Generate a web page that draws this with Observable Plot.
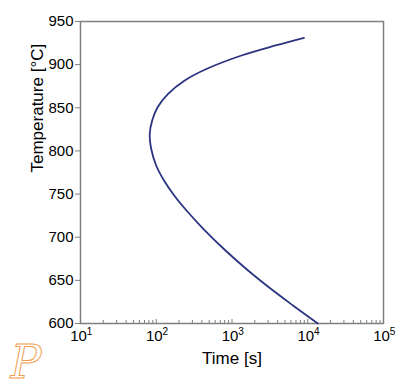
<!DOCTYPE html>
<html>
<head>
<meta charset="utf-8">
<script src="https://cdn.jsdelivr.net/npm/d3@7"></script>
<script src="https://cdn.jsdelivr.net/npm/@observablehq/plot@0.6"></script>
<style>
  html, body { margin: 0; padding: 0; background: #fff; }
  #wrap { position: relative; width: 401px; height: 391px; }
  #logo { position: absolute; left: 2px; top: 332px; }
</style>
</head>
<body>
<div id="wrap"></div>
<script>
// Time [s] along the C-curve (top to bottom)
const times = [8925, 3752, 1335, 466.3, 237.5, 143.4, 104.2, 88.4, 82, 86.0, 99.8, 126.6, 172.6, 250.8, 417.9, 820.8, 1631, 3252, 6387, 13575];
// Temperature [°C]
const temps = [931.1, 922.2, 910.6, 895.2, 881.6, 866.2, 850.7, 835.3, 820, 802, 783.1, 765.7, 748.4, 731, 709.8, 684.6, 661.4, 640.2, 620.9, 600];

const xTicks = [10, 100, 1000, 10000, 100000];
const xTickBase = ["10", "10", "10", "10", "10"];
const xTickExp = ["1", "2", "3", "4", "5"];
const yTicks = [600, 650, 700, 750, 800, 850, 900, 950];

const data = times.map((t, i) => ({time: t, temp: temps[i]}));
const minorTicks = [];
for (let d = 10; d < 100000; d *= 10) for (let k = 2; k <= 9; k++) minorTicks.push(d * k);

const axisColor = "#7f7f7f";
const font = "Liberation Sans, Arial, sans-serif";
const chart = Plot.plot({
  width: 401,
  height: 391,
  marginLeft: 80,
  marginRight: 18,
  marginTop: 21,
  marginBottom: 68,
  style: {fontFamily: font, fontSize: "15px", color: "#000", background: "#fff"},
  x: {type: "log", domain: [10, 100000]},
  y: {domain: [600, 950]},
  marks: [
    Plot.frame({stroke: axisColor, strokeWidth: 1.5}),
    Plot.axisX(xTicks, {tickSize: -4, stroke: axisColor, text: null, label: null}),
    Plot.axisX(minorTicks, {tickSize: -3, stroke: axisColor, text: null, label: null}),
    Plot.text(xTicks, {x: (d) => d, y: 600, text: (d, i) => xTickBase[i], dy: 13, dx: -2, fontSize: 15, fill: "#000"}),
    Plot.text(xTicks, {x: (d) => d, y: 600, text: (d, i) => xTickExp[i], dy: 8, dx: 9, fontSize: 10, fill: "#000"}),
    Plot.axisY(yTicks, {tickSize: 5, stroke: axisColor, tickPadding: 2, fontSize: 15, label: null, tickFormat: d3.format("d")}),
    Plot.line(data, {x: "time", y: "temp", stroke: "#2b3480", strokeWidth: 1.8, curve: "catmull-rom"}),
    Plot.text(["Time [s]"], {frameAnchor: "bottom", dy: 40, fontSize: 17, fill: "#000"}),
    Plot.text(["Temperature [°C]"], {frameAnchor: "left", dx: -43, rotate: -90, fontSize: 17, fill: "#000"})
  ]
});
document.getElementById("wrap").appendChild(chart);

const logo = document.createElementNS("http://www.w3.org/2000/svg", "svg");
logo.setAttribute("id", "logo");
logo.setAttribute("width", "48");
logo.setAttribute("height", "56");
logo.innerHTML = '<text x="24" y="46" text-anchor="middle" font-family="DejaVu Serif, serif" font-style="italic" font-size="46" fill="#fff" stroke="#f0a050" stroke-width="1">P</text>';
document.getElementById("wrap").appendChild(logo);
</script>
</body>
</html>
